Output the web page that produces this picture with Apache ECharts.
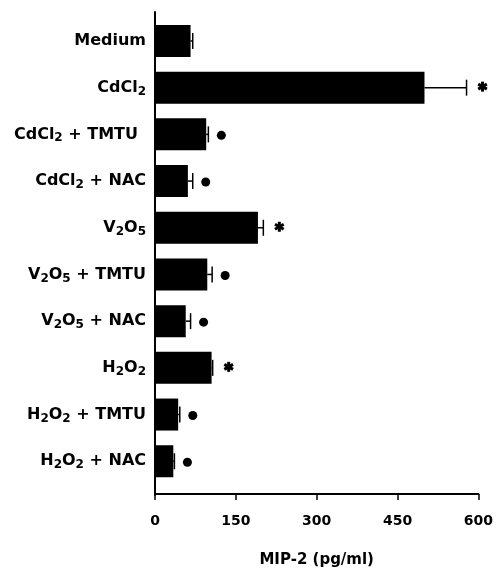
<!DOCTYPE html>
<html>
<head>
<meta charset="utf-8">
<script src="https://cdn.jsdelivr.net/npm/echarts@6/dist/echarts.min.js"></script>
<style>
html,body{margin:0;padding:0;background:#fff;}
#chart{width:496px;height:573px;}
</style>
</head>
<body>
<div id="chart"></div>
<script>
// ---- data ----
var categories = ['Medium', 'CdCl₂', 'CdCl₂ + TMTU\u2002', 'CdCl₂ + NAC', 'V₂O₅', 'V₂O₅ + TMTU', 'V₂O₅ + NAC', 'H₂O₂', 'H₂O₂ + TMTU', 'H₂O₂ + NAC'];
var values = [66, 500, 95, 61, 191, 97, 57, 105, 43, 34];
var errors = [4, 78, 4, 9, 10, 9, 9, 2, 3, 2];
var markers = ['', '*', '●', '●', '*', '●', '●', '*', '●', '●'];
var xTicks = [0, 150, 300, 450, 600];
var xTitle = 'MIP-2 (pg/ml)';

var FONT = 'DejaVu Sans';

function richLabel(s) {
  return s.replace(/([^₂₅]+)/g, '{n|$1}').replace(/₂/g, '{s|2}').replace(/₅/g, '{s|5}');
}

var chart = echarts.init(document.getElementById('chart'), null, {renderer: 'canvas'});

var errData = categories.map(function (c, i) { return [i, values[i], errors[i], i]; });

var option = {
  animation: false,
  backgroundColor: '#fff',
  grid: [
    {left: 155, right: 16, top: 17.6, bottom: 87.4, containLabel: false},
    {left: 155, right: 16, top: 12, bottom: 78, containLabel: false}
  ],
  xAxis: [
    {
      type: 'value', gridIndex: 0, min: xTicks[0], max: xTicks[xTicks.length - 1], interval: xTicks[1] - xTicks[0],
      offset: 9.4,
      axisLine: {show: true, lineStyle: {color: '#000', width: 2}},
      axisTick: {show: true, length: 6, lineStyle: {color: '#000', width: 1.5}},
      axisLabel: {color: '#000', fontSize: 14, fontWeight: 'bold', fontFamily: FONT, margin: 20},
      splitLine: {show: false},
      name: xTitle, nameLocation: 'middle', nameGap: 59,
      nameTextStyle: {color: '#000', fontSize: 15, fontWeight: 'bold', fontFamily: FONT}
    },
    {type: 'value', gridIndex: 1, show: false}
  ],
  yAxis: [
    {
      type: 'category', gridIndex: 0, data: categories, inverse: true,
      axisLine: {show: false},
      axisTick: {show: false},
      axisLabel: {
        margin: 9,
        formatter: function (v) { return richLabel(v); },
        rich: {
          n: {fontSize: 16, fontWeight: 'bold', fontFamily: FONT, color: '#000', lineHeight: 20},
          s: {fontSize: 12, fontWeight: 'bold', fontFamily: FONT, color: '#000', lineHeight: 10, verticalAlign: 'bottom'}
        }
      }
    },
    {
      type: 'value', gridIndex: 1, min: 0, max: 1,
      axisLine: {show: true, onZero: false, lineStyle: {color: '#000', width: 2}},
      axisTick: {show: false}, axisLabel: {show: false}, splitLine: {show: false}
    }
  ],
  series: [
    {
      type: 'bar', xAxisIndex: 0, yAxisIndex: 0, data: values, barWidth: 32,
      itemStyle: {color: '#000'}
    },
    {
      type: 'custom', xAxisIndex: 0, yAxisIndex: 0, data: errData,
      encode: {x: 1, y: 0},
      renderItem: function (params, api) {
        var idx = api.value(0), v = api.value(1), e = api.value(2);
        var p0 = api.coord([v, idx]);
        var p1 = api.coord([v + e, idx]);
        var children = [];
        var st = {stroke: '#000', lineWidth: 1.5};
        if (e > 0) {
          children.push({type: 'line', shape: {x1: p0[0], y1: p0[1], x2: p1[0], y2: p1[1]}, style: st});
          children.push({type: 'line', shape: {x1: p1[0], y1: p1[1] - 8, x2: p1[0], y2: p1[1] + 8}, style: st});
        }
        var m = markers[idx];
        if (m === '●') {
          children.push({type: 'circle', shape: {cx: p1[0] + 13, cy: p1[1] + 1, r: 4.5}, style: {fill: '#000'}});
        } else if (m === '*') {
          var cx = p1[0] + 16, cy = p1[1] - 1, r = 5;
          [90, 30, -30].forEach(function (a) {
            var rad = a * Math.PI / 180;
            children.push({type: 'line', shape: {x1: cx - r * Math.cos(rad), y1: cy - r * Math.sin(rad), x2: cx + r * Math.cos(rad), y2: cy + r * Math.sin(rad)}, style: {stroke: '#000', lineWidth: 3}});
          });
        }
        return {type: 'group', children: children};
      }
    }
  ]
};
chart.setOption(option);
</script>
</body>
</html>
